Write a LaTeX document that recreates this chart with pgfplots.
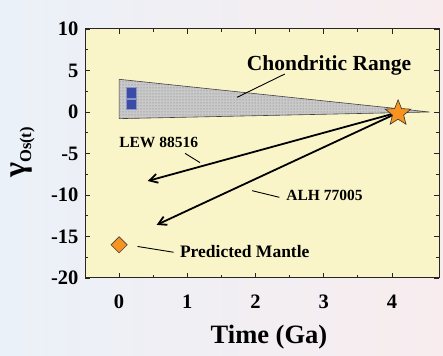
\documentclass[border=0pt]{standalone}
\usepackage{fontspec}
\setmainfont{Liberation Serif}
\usepackage{pgfplots}
\pgfplotsset{compat=1.18}
\usetikzlibrary{arrows.meta,patterns,shapes.geometric}
\definecolor{axbg}{HTML}{F9F5C9}
\definecolor{starorange}{HTML}{F7931E}
\definecolor{sqblue}{HTML}{3A4CA6}
\definecolor{bgleft}{HTML}{EAF1F8}
\definecolor{bgright}{HTML}{F8ECEE}
\pgfdeclareplotmark{fstar}{\node[star,star points=5,star point ratio=2.3,minimum size=27pt,inner sep=0pt,draw=black!80,fill=starorange,line width=0.6pt]{};}
\begin{document}
\begin{tikzpicture}
\shade[left color=bgleft,right color=bgright] (0,0) rectangle (443pt,355pt);
\begin{axis}[
  at={(85pt,77pt)}, anchor=south west, scale only axis,
  width=354pt, height=249pt,
  xmin=-0.5, xmax=4.69, ymin=-20, ymax=10,
  xtick={0,1,2,3,4}, ytick={-20,-15,-10,-5,0,5,10},
  minor x tick num=1, minor y tick num=1,
  tick align=inside, major tick length=5pt, minor tick length=3pt,
  axis background/.style={fill=axbg},
  axis line style={line width=1pt, black!85},
  every tick/.style={black!85, line width=0.8pt},
  tick label style={font=\fontsize{20.5}{20.5}\selectfont\bfseries},
  /pgf/number format/assume math mode=true,
  xticklabel style={yshift=-13pt},
  yticklabel style={xshift=-3pt},
]
% chondritic range
\addplot[fill=gray!42, draw=black!75, line width=0.6pt] coordinates {(0,3.94) (4.55,0) (0,-0.8)} -- cycle;
\addplot[pattern=dots, pattern color=black!55, draw=none] coordinates {(0,3.94) (4.55,0) (0,-0.8)} -- cycle;
% blue squares
\addplot[fill=sqblue, draw=sqblue!60, line width=0.5pt] coordinates {(0.1,1.6) (0.25,1.6) (0.25,3.0) (0.1,3.0)} -- cycle;
\addplot[fill=sqblue, draw=sqblue!60, line width=0.5pt] coordinates {(0.1,0.35) (0.25,0.35) (0.25,1.55) (0.1,1.55)} -- cycle;
% arrows
\addplot[black, line width=1.8pt, -{Straight Barb[length=8pt,width=9pt]}] coordinates {(4.0,-0.25) (0.42,-8.31)};
\addplot[black, line width=1.8pt, -{Straight Barb[length=8pt,width=9pt]}] coordinates {(4.02,-0.35) (0.55,-13.6)};
% leader lines
\addplot[black, line width=0.9pt] coordinates {(2.43,4.58) (1.73,1.77)};
\addplot[black, line width=0.9pt] coordinates {(0.966,-4.98) (1.186,-6.1)};
\addplot[black, line width=0.9pt] coordinates {(1.95,-9.48) (2.35,-10.28)};
\addplot[black, line width=0.9pt] coordinates {(0.27,-16.2) (0.80,-16.9)};
% star
\addplot[only marks, mark=fstar] coordinates {(4.09,-0.16)};
% predicted mantle
\addplot[only marks, mark=square*, mark size=5.7pt, mark options={rotate=45, fill=starorange, draw=black!75, line width=0.6pt}] coordinates {(0,-16)};
% labels
\node[anchor=base west, inner sep=0pt, font=\fontsize{21.5}{21.5}\selectfont\bfseries] at (axis cs:1.87,5.0) {Chondritic Range};
\node[anchor=base west, inner sep=0pt, font=\fontsize{15.5}{15.5}\selectfont\bfseries] at (axis cs:0.0,-4.3) {LEW 88516};
\node[anchor=base west, inner sep=0pt, font=\fontsize{15.5}{15.5}\selectfont\bfseries] at (axis cs:2.45,-10.7) {ALH 77005};
\node[anchor=base west, inner sep=0pt, font=\fontsize{17.5}{17.5}\selectfont\bfseries] at (axis cs:0.89,-17.5) {Predicted Mantle};
\end{axis}
\node[font=\fontsize{26.5}{26.5}\selectfont\bfseries, anchor=base] at (269pt,12pt) {Time (Ga)};
\node[rotate=90, anchor=base west, inner sep=0pt] at (25pt,177pt) {\fontsize{32}{32}\selectfont\bfseries γ\raisebox{-6pt}{\fontsize{16.5}{16.5}\selectfont\bfseries Os(t)}};
\pgfresetboundingbox
\useasboundingbox (0,0) rectangle (443pt,355pt);
\end{tikzpicture}
\end{document}
